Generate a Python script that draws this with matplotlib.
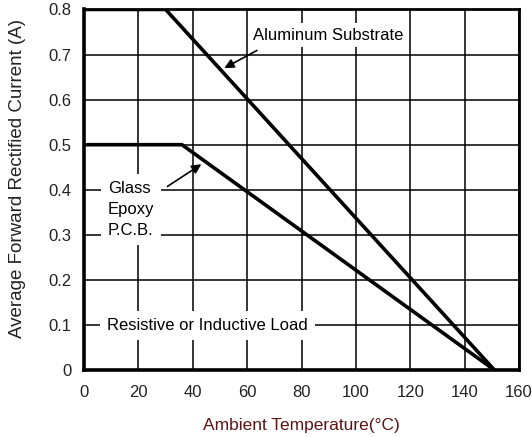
import matplotlib
matplotlib.use("Agg")
import matplotlib.pyplot as plt

# derating curves (ambient temperature in C, current in A)
alu_temp = [0, 30, 151]
alu_current = [0.8, 0.8, 0.0]
glass_temp = [0, 36, 151]
glass_current = [0.5, 0.5, 0.0]

x_ticks = [0, 20, 40, 60, 80, 100, 120, 140, 160]
y_ticks = [0, 0.1, 0.2, 0.3, 0.4, 0.5, 0.6, 0.7, 0.8]
y_tick_labels = ["0", "0.1", "0.2", "0.3", "0.4", "0.5", "0.6", "0.7", "0.8"]

plt.rcParams['font.family'] = ['Liberation Sans', 'DejaVu Sans']

fig = plt.figure(figsize=(5.32, 4.37), dpi=100)
ax = fig.add_axes([0.158, 0.153, 0.8176, 0.8254])

ax.set_xlim(0, 160)
ax.set_ylim(0, 0.8)
ax.set_xticks(x_ticks)
ax.set_yticks(y_ticks)
ax.set_yticklabels(y_tick_labels)
ax.tick_params(length=0, labelsize=12, colors='#222222')
ax.tick_params(axis='x', pad=11)
ax.tick_params(axis='y', pad=9)

ax.grid(True, color='black', linewidth=1.1, zorder=1)
ax.set_axisbelow(True)

for side in ['left', 'bottom']:
    ax.spines[side].set_linewidth(2.6)
for side in ['top', 'right']:
    ax.spines[side].set_linewidth(2.0)

ax.plot(alu_temp, alu_current, color='black', linewidth=2.6, zorder=3)
ax.plot(glass_temp, glass_current, color='black', linewidth=2.6, zorder=3)

# labels with white boxes breaking the grid
ax.text(62.3, 0.743, "Aluminum Substrate", fontsize=12, va='center', ha='left',
        bbox=dict(facecolor='white', edgecolor='none', pad=3), zorder=2)
ax.annotate("", xy=(50.7, 0.667), xytext=(64.5, 0.712),
            arrowprops=dict(arrowstyle='-|>', color='black', lw=1.2,
                            mutation_scale=14), zorder=4)

ax.text(8.8, 0.356, "Glass\nEpoxy\nP.C.B.", fontsize=12, va='center', ha='left',
        linespacing=1.5, bbox=dict(facecolor='white', edgecolor='none', pad=5),
        zorder=2)
ax.annotate("", xy=(44.0, 0.46), xytext=(29.8, 0.404),
            arrowprops=dict(arrowstyle='-|>', color='black', lw=1.2,
                            mutation_scale=14), zorder=4)

ax.text(8.5, 0.098, "Resistive or Inductive Load", fontsize=12, va='center',
        ha='left', bbox=dict(facecolor='white', edgecolor='none', pad=5), zorder=2)

ax.set_xlabel("Ambient Temperature(\u00b0C)", fontsize=12.5, color='#5c1414', labelpad=13)
ax.set_ylabel("Average Forward Rectified Current (A)", fontsize=13.5, color='#222222')
ax.yaxis.set_label_coords(-0.133, 0.532)

fig.savefig("out.png", dpi=100)
